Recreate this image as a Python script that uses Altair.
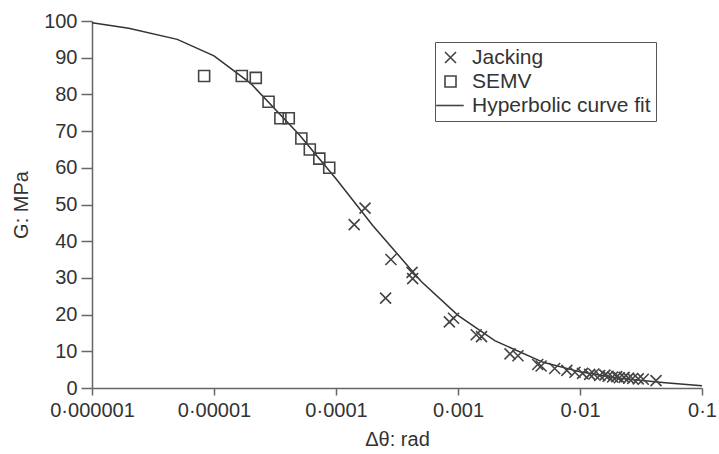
import altair as alt
import pandas as pd

# SEMV measurements
semv_x = [8.3e-6, 1.69e-5, 2.2e-5, 2.8e-5, 3.5e-5, 4.1e-5, 5.2e-5, 6.1e-5, 7.3e-5, 8.8e-5]
semv_g = [85, 85, 84.5, 78, 73.5, 73.5, 68, 65, 62.5, 60]

# Jacking measurements
jack_x = [1.41e-4, 1.73e-4, 2.55e-4, 2.82e-4, 4.2e-4, 4.25e-4, 8.5e-4, 9.2e-4,
          1.41e-3, 1.56e-3, 2.67e-3, 3.1e-3, 4.5e-3, 4.8e-3, 6.2e-3, 7.8e-3,
          9.1e-3, 0.0105, 0.012, 0.013, 0.0145, 0.016, 0.017, 0.0185, 0.020,
          0.021, 0.023, 0.025, 0.027, 0.030, 0.033, 0.042]
jack_g = [44.5, 49, 24.5, 35, 31.5, 29.8, 18, 19,
          14.5, 14, 9.3, 8.8, 6.4, 6.0, 5.3, 4.8,
          4.3, 4.0, 3.7, 3.8, 3.4, 3.5, 3.2, 3.0, 3.1,
          2.8, 2.9, 2.7, 2.6, 2.5, 2.4, 2.0]

# Hyperbolic curve fit
fit_x = [1e-6, 2e-6, 5e-6, 1e-5, 2e-5, 5e-5, 1e-4, 2e-4, 5e-4, 1e-3,
         2e-3, 5e-3, 1e-2, 2e-2, 5e-2, 1e-1]
fit_g = [99.5, 98, 95, 90.5, 83, 69, 57, 44.3, 29, 19.8,
         12.9, 7.0, 4.4, 2.7, 1.4, 0.6]

x_ticks = [1e-6, 1e-5, 1e-4, 1e-3, 1e-2, 1e-1]
y_ticks = [0, 10, 20, 30, 40, 50, 60, 70, 80, 90, 100]

series_names = ["Jacking", "SEMV", "Hyperbolic curve fit"]
x_path = "M-1,-1L1,1M-1,1L1,-1"
line_path = "M-2.6,0L2.4,0"

pts = pd.DataFrame({
    "x": jack_x + semv_x,
    "g": jack_g + semv_g,
    "series": ["Jacking"] * len(jack_x) + ["SEMV"] * len(semv_x),
})
fit = pd.DataFrame({"x": fit_x, "g": fit_g})

FONT = "Liberation Sans"
INK = "#444444"

x_enc = alt.X(
    "x:Q",
    scale=alt.Scale(type="log", domain=[1e-6, 0.1]),
    axis=alt.Axis(
        values=x_ticks,
        labelExpr="replace(format(datum.value, '.6~f'), '.', '·')",
        title="Δθ: rad",
        grid=False,
        tickSize=7,
        labelPadding=5,
        titlePadding=9,
        labelFlush=False,
        labelOverlap=False,
    ),
)
y_enc = alt.Y(
    "g:Q",
    scale=alt.Scale(domain=[0, 100]),
    axis=alt.Axis(
        values=y_ticks,
        title="G: MPa",
        grid=False,
        tickSize=11,
        labelPadding=4,
        titlePadding=12,
    ),
)

curve = alt.Chart(fit).mark_line(color="#333333", strokeWidth=1.5).encode(
    x=x_enc, y=y_enc
)

points = alt.Chart(pts).mark_point(
    filled=False, size=121, strokeWidth=1.6, color=INK, opacity=1
).encode(
    x=x_enc,
    y=y_enc,
    shape=alt.Shape(
        "series:N",
        scale=alt.Scale(domain=series_names, range=[x_path, "square", line_path]),
        legend=alt.Legend(
            title=None,
            orient="none",
            legendX=343,
            legendY=21,
            strokeColor="#555555",
            fillColor="white",
            padding=5,
            rowPadding=2,
            labelFontSize=21,
            labelFont=FONT,
            labelColor="#333333",
            labelLimit=400,
            symbolSize=121,
            symbolStrokeColor=INK,
            symbolStrokeWidth=1.6,
            symbolFillColor="transparent",
            labelOffset=11,
        ),
    ),
)

chart = (
    alt.layer(curve, points)
    .properties(
        width=610,
        height=367,
        autosize=alt.AutoSizeParams(type="none"),
        padding={"left": 92, "top": 21, "right": 17, "bottom": 66},
        background="white",
    )
    .configure_view(stroke=None)
    .configure_axis(
        labelFont=FONT,
        titleFont=FONT,
        labelFontSize=20,
        titleFontSize=20,
        titleFontWeight="normal",
        labelColor="#333333",
        titleColor="#333333",
        domainColor="#666666",
        tickColor="#666666",
        domainWidth=1.5,
        tickWidth=1.5,
    )
)

chart.save("out.html", embed_options={"renderer": "svg", "actions": False})
